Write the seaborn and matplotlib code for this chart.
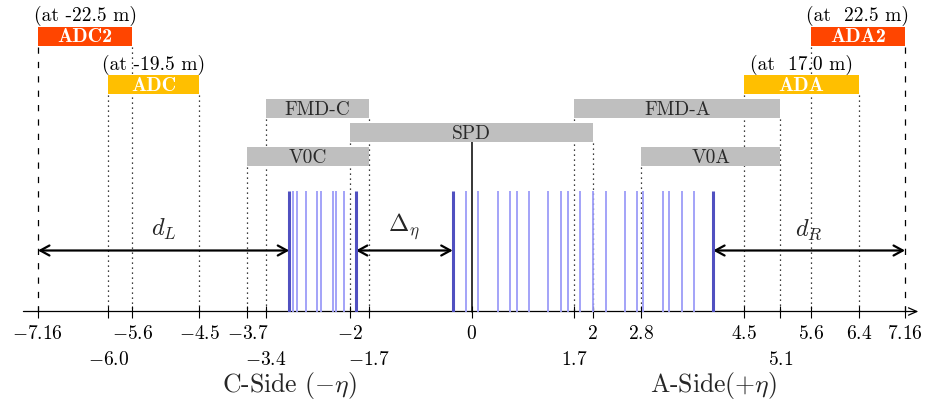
import matplotlib.pyplot as plt
import seaborn as sns
from matplotlib.ticker import FixedFormatter, FixedLocator

# detector acceptances (pseudorapidity)
det_names = ["ADC2", "ADC", "FMD-C", "V0C", "SPD", "FMD-A", "V0A", "ADA", "ADA2"]
det_lo = [-7.16, -6.0, -3.4, -3.7, -2.0, 1.7, 2.8, 4.5, 5.6]
det_hi = [-5.6, -4.5, -1.7, -1.7, 2.0, 5.1, 5.1, 6.4, 7.16]
det_row = [0, 1, 2, 4, 3, 2, 4, 1, 0]
det_kind = ["ad2", "ad", "central", "central", "central", "central", "central", "ad", "ad2"]
det_where = ["(at -22.5 m)", "(at -19.5 m)", "", "", "", "", "", "(at  17.0 m)", "(at  22.5 m)"]

# particle tracks in eta, edges of each cluster drawn thicker
tracks_c = [-2.94, -2.88, -2.74, -2.55, -2.49, -2.29, -2.23, -2.10]
tracks_a = [-0.09, 0.11, 0.43, 0.64, 0.75, 0.95, 1.27, 1.48, 1.59, 1.79, 2.00,
            2.22, 2.53, 2.74, 2.84, 3.16, 3.26, 3.47, 3.68]
tracks_edge = [-3.01, -1.91, -0.31, 3.99]

# gaps: (from, to, label)
gap_from = [-7.16, -1.91, 3.99]
gap_to = [-3.01, -0.31, 7.16]
gap_label = [r"$d_L$", r"$\Delta_\eta$", r"$d_R$"]

ticks_top = [-7.16, -5.6, -4.5, -3.7, -2, 0, 2, 2.8, 4.5, 5.6, 6.4, 7.16]
ticks_top_lbl = ["-7.16", "-5.6", "-4.5", "-3.7", "-2", "0", "2", "2.8", "4.5", "5.6", "6.4", "7.16"]
ticks_low = [-6.0, -3.4, -1.7, 1.7, 5.1]
ticks_low_lbl = ["-6.0", "-3.4", "-1.7", "1.7", "5.1"]

COLORS = {"ad2": "#ff4500", "ad": "#ffbf00", "central": "#bfbfbf"}
TEXT_COLORS = {"ad2": "white", "ad": "white", "central": "#2a2a2a"}

ROW_TOP = [27.5, 76.0, 100.0, 124.3, 148.3]
BOX_H = 19.0
AXIS_Y = 312.5
TRACK_TOP = 191.7
ARROW_Y = 251.5

sns.set_theme(style="white")
plt.rcParams["mathtext.fontset"] = "cm"
plt.rcParams["font.family"] = ["cmr10", "DejaVu Serif"]
plt.rcParams["axes.unicode_minus"] = True

W, H = 925, 406
fig = plt.figure(figsize=(W / 100, H / 100), dpi=100)
ax = fig.add_axes([0, 0, 1, 1])
x0, scale = 471.5, 60.55
xlim = (-x0 / scale, (W - x0) / scale)
ax.set_xlim(*xlim)
ax.set_ylim(H, 0)
ax.yaxis.set_visible(False)
for side in ["left", "right", "top", "bottom"]:
    ax.spines[side].set_visible(False)
ax.spines["bottom"].set_position(("data", AXIS_Y))

# edge lines from each box down to the axis
edges = {}
for lo, hi, row in zip(det_lo, det_hi, det_row):
    bottom = ROW_TOP[row] + BOX_H
    for e in (lo, hi):
        edges[e] = min(edges.get(e, 1e9), bottom)
for e, bottom in edges.items():
    ls = (0, (5, 6.5)) if abs(e) == 7.16 else (0, (1, 3))
    ax.plot([e, e], [bottom + 1, AXIS_Y], color="black", lw=0.9, ls=ls, zorder=1)

# detector boxes
for name, lo, hi, row, kind, where in zip(det_names, det_lo, det_hi, det_row, det_kind, det_where):
    top = ROW_TOP[row]
    ax.barh(top + BOX_H / 2, hi - lo, left=lo, height=BOX_H, color=COLORS[kind],
            edgecolor="none", zorder=3)
    mid = (lo + hi) / 2
    bold = kind != "central"
    ax.text(mid, top + BOX_H / 2 + 0.5, name, ha="center", va="center",
            fontsize=14.5 if bold else 14, color=TEXT_COLORS[kind], zorder=4,
            family="cmb10" if bold else "cmr10")
    if where:
        ax.text(mid, top - 1.0, where, ha="center", va="bottom", fontsize=14,
                color="black", zorder=4)

# interaction point line from SPD
ax.plot([0, 0], [ROW_TOP[3] + BOX_H, AXIS_Y], color="black", lw=1.1, zorder=2)

# tracks drawn as rugs in a strip that sits on the axis
tax = fig.add_axes([0, (H - AXIS_Y) / H, 1, (AXIS_Y - TRACK_TOP) / H])
tax.set_xlim(*xlim)
tax.set_ylim(0, 1)
tax.axis("off")
tax.patch.set_alpha(0)
sns.rugplot(x=tracks_c + tracks_a, height=1, color="#9c9cf8", linewidth=1.3,
            expand_margins=False, ax=tax)
sns.rugplot(x=tracks_edge, height=1, color="#5050c0", linewidth=2.2,
            expand_margins=False, ax=tax)

# gap arrows
for a, b, lbl in zip(gap_from, gap_to, gap_label):
    ax.annotate("", xy=(b, ARROW_Y), xytext=(a, ARROW_Y),
                arrowprops=dict(arrowstyle="<->,head_length=0.55,head_width=0.3",
                                lw=1.6, color="black", shrinkA=0, shrinkB=0),
                zorder=5)
    ax.text((a + b) / 2, ARROW_Y - 9, lbl, ha="center", va="bottom", fontsize=17.5)

# eta axis with arrow
ax.annotate("", xy=(7.38, AXIS_Y), xytext=(-7.40, AXIS_Y),
            arrowprops=dict(arrowstyle="->,head_length=0.5,head_width=0.22",
                            lw=0.9, color="black", shrinkA=0, shrinkB=0))
ax.xaxis.set_major_locator(FixedLocator(ticks_top))
ax.xaxis.set_major_formatter(FixedFormatter([f"${s}$" for s in ticks_top_lbl]))
ax.xaxis.set_minor_locator(FixedLocator(ticks_low))
ax.xaxis.set_minor_formatter(FixedFormatter([f"${s}$" for s in ticks_low_lbl]))
ax.tick_params(axis="x", which="both", direction="inout", length=8.6, width=0.8,
               color="black", labelsize=14, labelcolor="black", bottom=True)
ax.tick_params(axis="x", which="major", pad=5.0)
ax.tick_params(axis="x", which="minor", pad=23.5)

ax.text(-3.0, 386, r"C-Side $(-\eta)$", ha="center", va="center", fontsize=18.5)
ax.text(4.0, 386, r"A-Side$(+\eta)$", ha="center", va="center", fontsize=18.5)

fig.savefig("out.png", dpi=100, facecolor="white")
